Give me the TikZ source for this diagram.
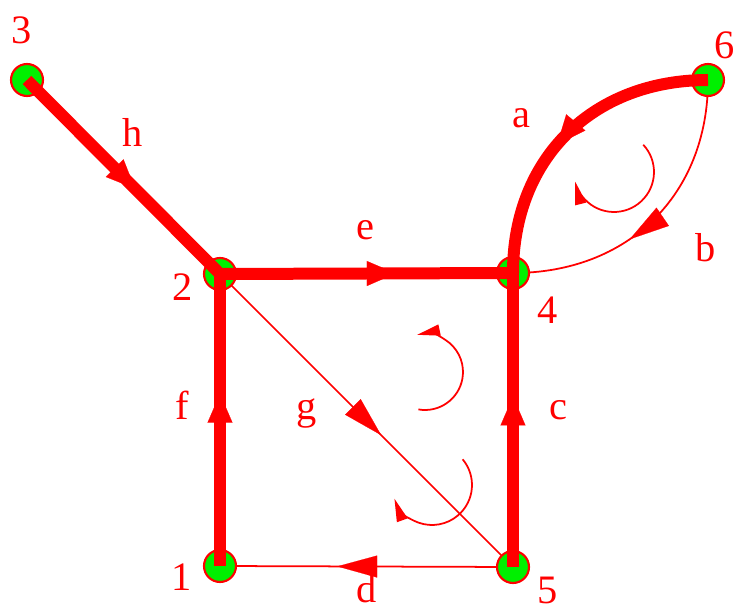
\documentclass[tikz,border=0pt]{standalone}
\usepackage{fontspec}
\setmainfont{Liberation Serif}
\usetikzlibrary{arrows.meta,decorations.markings,backgrounds}
\definecolor{edgered}{RGB}{255,0,0}
\definecolor{vertgreen}{RGB}{0,240,0}
\tikzset{
  vertex/.style={circle,draw=edgered,fill=vertgreen,line width=1.2pt,
                 minimum size=0.64cm,inner sep=0pt},
  lbl/.style={text=edgered,inner sep=0pt,font=\fontsize{23}{27}\selectfont},
  heavy/.style={draw=edgered,line width=0.24cm},
  light/.style={draw=edgered,line width=1pt},
  heavytip/.style={postaction={decorate},decoration={markings,
    mark=at position #1 with {\arrow{Triangle[length=0.58cm,width=0.5cm,line width=0.1pt]}}}},
  lighttip/.style={postaction={decorate},decoration={markings,
    mark=at position #1 with {\arrow{Triangle[length=0.8cm,width=0.44cm,line width=0.1pt]}}}},
  turn/.style={draw=edgered,line width=1pt,-{Triangle[length=0.46cm,width=0.22cm]}}
}
\begin{document}
\begin{tikzpicture}[x=0.02cm,y=-0.02cm]
  \useasboundingbox (0,0) rectangle (735,612);
  % vertices
  \node[vertex] (v1) at (220,566) {};
  \node[vertex] (v2) at (220,274) {};
  \node[vertex] (v3) at (27,80) {};
  \node[vertex] (v4) at (513,273) {};
  \node[vertex] (v5) at (513,567) {};
  \node[vertex] (v6) at (708,80) {};
  % thin edges behind the vertices
  \begin{pgfonlayer}{background}
    \draw[light,lighttip=0.55] (v2.center) -- (v5.center);
    \draw[light,lighttip=0.6] (v5.center) -- (v1.center);
    \draw[light,lighttip=0.6] (v6.center) .. controls +(0,115) and +(115,0) .. (v4.center);
  \end{pgfonlayer}
  % thick edges
  \draw[heavy,heavytip=0.56] (v3.center) -- (v2.center);
  \draw[heavy,heavytip=0.6] (v2.center) -- (v4.center);
  \draw[heavy,heavytip=0.59] (v1.center) -- (v2.center);
  \draw[heavy,heavytip=0.58] (v5.center) -- (v4.center);
  \draw[heavy,heavytip=0.55] (v6.center) .. controls +(-115,0) and +(0,-115) .. (v4.center);
  % orientation of the cycles
  \draw[turn] ([shift={(43:0.8cm)}]614,172) arc[start angle=43,end angle=-166,radius=0.8cm];
  \draw[turn] ([shift={(-100:0.76cm)}]425,372) arc[start angle=-100,end angle=102,radius=0.76cm];
  \draw[turn] ([shift={(40:0.8cm)}]432,485) arc[start angle=40,end angle=-160,radius=0.8cm];
  % vertex labels
  \node[lbl] (t1) at (182,577) {1};
  \node[lbl] (t2) at (183,287) {2};
  \node[lbl] (t3) at (22,30) {3};
  \node[lbl] (t4) at (548,310) {4};
  \node[lbl] (t5) at (548,590) {5};
  \node[lbl] (t6) at (725,45) {6};
  % edge labels
  \node[lbl] (ta) at (521,118) {a};
  \node[lbl] (tb) at (706,248) {b};
  \node[lbl] (tc) at (558,410) {c};
  \node[lbl] (td) at (367,589) {d};
  \node[lbl] (te) at (365,230) {e};
  \node[lbl] (tf) at (182,405) {f};
  \node[lbl] (tg) at (307,413) {g};
  \node[lbl] (th) at (133,132) {h};
\end{tikzpicture}
\end{document}
